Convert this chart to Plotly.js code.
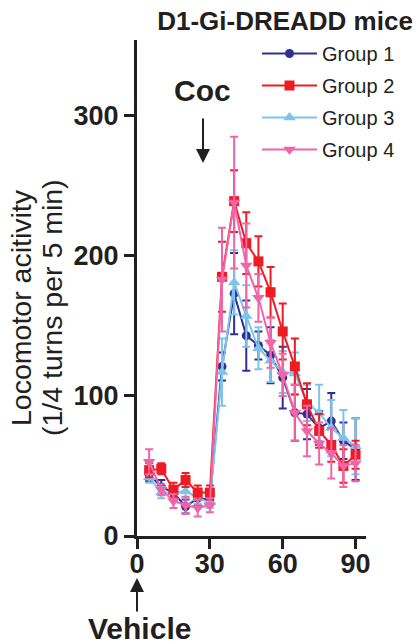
<!DOCTYPE html>
<html>
<head>
<meta charset="utf-8">
<script src="https://cdn.plot.ly/plotly-3.0.1.min.js"></script>
<style>html,body{margin:0;padding:0;background:#fff;}</style>
</head>
<body>
<div id="chart" style="width:419px;height:644px;"></div>
<script>
// Time (min) of each 5-min bin
const time = [5,10,15,20,25,30,35,40,45,50,55,60,65,70,75,80,85,90];

const groupNames = ["Group 1","Group 2","Group 3","Group 4"];

const g1Mean = [44,35,31,21,27,26,121,173,143,136,129,113,88,87,77,82,68,62];
const g1Err  = [5,5,4,5,5,4,10,29,25,10,20,22,20,18,12,20,13,22];

const g2Mean = [47,48,33,40,31,31,185,239,209,196,174,146,121,94,75,65,50,58];
const g2Err  = [5,4,5,5,5,5,25,22,22,18,18,20,20,15,12,12,12,10];

const g3Mean = [42,31,31,32,27,24,117,181,157,134,125,117,116,95,88,77,70,64];
const g3Err  = [4,4,4,5,4,4,24,23,22,15,15,15,15,13,20,20,20,20];

const g4Mean = [53,33,25,22,20,22,183,238,193,170,138,115,88,75,66,59,50,52];
const g4Err  = [9,4,5,6,6,5,37,47,30,17,18,15,20,18,15,18,15,13];

const xTicks = [0,30,60,90];
const yTicks = [0,100,200,300];

const ink = '#231f20';
const FONT = 'Liberation Sans, Arial, Helvetica, sans-serif';

function tr(name, x, y, err, color, symbol, size, rank) {
  return {
    type: 'scatter', mode: 'lines+markers', name: name, x: x, y: y,
    legendgroup: name, legendrank: rank,
    line: {color: color, width: 2},
    marker: {color: color, symbol: symbol, size: size},
    error_y: {type: 'data', array: err, visible: true, color: color, thickness: 2, width: 4},
    cliponaxis: false
  };
}

const data = [
  tr(groupNames[0], time, g1Mean, g1Err, '#2e3192', 'circle', 9, 1),
  tr(groupNames[2], time, g3Mean, g3Err, '#7fc3ec', 'triangle-up', 11, 3),
  tr(groupNames[1], time, g2Mean, g2Err, '#ed1c24', 'square', 10, 2),
  tr(groupNames[3], time, g4Mean, g4Err, '#f065a8', 'triangle-down', 11, 4)
];

const L = 137, R = 53, T = 40, B = 108, W = 419, H = 644;
const pw = W - L - R, ph = H - T - B;
const px = p => (p - L) / pw;       // pixel -> paper x
const py = p => (H - B - p) / ph;   // pixel -> paper y

const layout = {
  width: W, height: H,
  margin: {l: L, r: R, t: T, b: B, pad: 0},
  paper_bgcolor: '#fff', plot_bgcolor: '#fff',
  font: {family: FONT, color: ink},
  showlegend: true,
  title: {
    text: 'D1-Gi-DREADD mice',
    font: {family: FONT, size: 26, weight: 'bold', color: ink},
    xref: 'container', yref: 'container',
    x: 285 / W, xanchor: 'center', y: 1 - 21 / H, yanchor: 'middle'
  },
  xaxis: {
    range: [0, 94.3], tickvals: xTicks, ticktext: xTicks.map(String),
    ticks: 'outside', ticklen: 10, tickwidth: 3, tickcolor: ink,
    ticklabelstandoff: -8,
    showline: true, linewidth: 3, linecolor: ink,
    showgrid: false, zeroline: false,
    tickfont: {family: FONT, size: 27, weight: 'bold', color: ink}
  },
  yaxis: {
    range: [0, 354], tickvals: yTicks, ticktext: yTicks.map(String),
    ticks: 'outside', ticklen: 10, tickwidth: 3, tickcolor: ink,
    showline: true, linewidth: 3, linecolor: ink,
    showgrid: false, zeroline: false,
    tickfont: {family: FONT, size: 27, weight: 'bold', color: ink}
  },
  legend: {
    x: px(257), xanchor: 'left', y: py(34), yanchor: 'top',
    font: {family: FONT, size: 20, color: ink},
    bgcolor: 'rgba(0,0,0,0)', borderwidth: 0,
    itemwidth: 55, tracegroupgap: 3, traceorder: 'grouped'
  },
  annotations: [
    {text: 'Locomotor acitivity', xref: 'paper', yref: 'paper', x: px(21), y: py(308),
     xanchor: 'center', yanchor: 'middle', textangle: -90, showarrow: false,
     font: {family: FONT, size: 28.5, color: ink}},
    {text: '(1/4 turns per 5 min)', xref: 'paper', yref: 'paper', x: px(52), y: py(308),
     xanchor: 'center', yanchor: 'middle', textangle: -90, showarrow: false,
     font: {family: FONT, size: 28.5, color: ink}},
    {text: 'Coc', xref: 'paper', yref: 'paper', x: px(202.5), y: py(91),
     xanchor: 'center', yanchor: 'middle', showarrow: false,
     font: {family: FONT, size: 30, weight: 'bold', color: ink}},
    {text: '', xref: 'paper', yref: 'paper', x: px(203), y: py(163),
     showarrow: true, ax: 0, ay: -46, arrowhead: 2, arrowsize: 1.4, arrowwidth: 2, arrowcolor: ink},
    {text: '', xref: 'x', yref: 'paper', x: 0, y: py(578),
     showarrow: true, ax: 0, ay: 35, arrowhead: 2, arrowsize: 1.4, arrowwidth: 2, arrowcolor: ink},
    {text: 'Vehicle', xref: 'paper', yref: 'paper', x: px(139), y: py(628),
     xanchor: 'center', yanchor: 'middle', showarrow: false,
     font: {family: FONT, size: 30, weight: 'bold', color: ink}}
  ]
};

Plotly.newPlot('chart', data, layout, {displayModeBar: false, staticPlot: true});
</script>
</body>
</html>
